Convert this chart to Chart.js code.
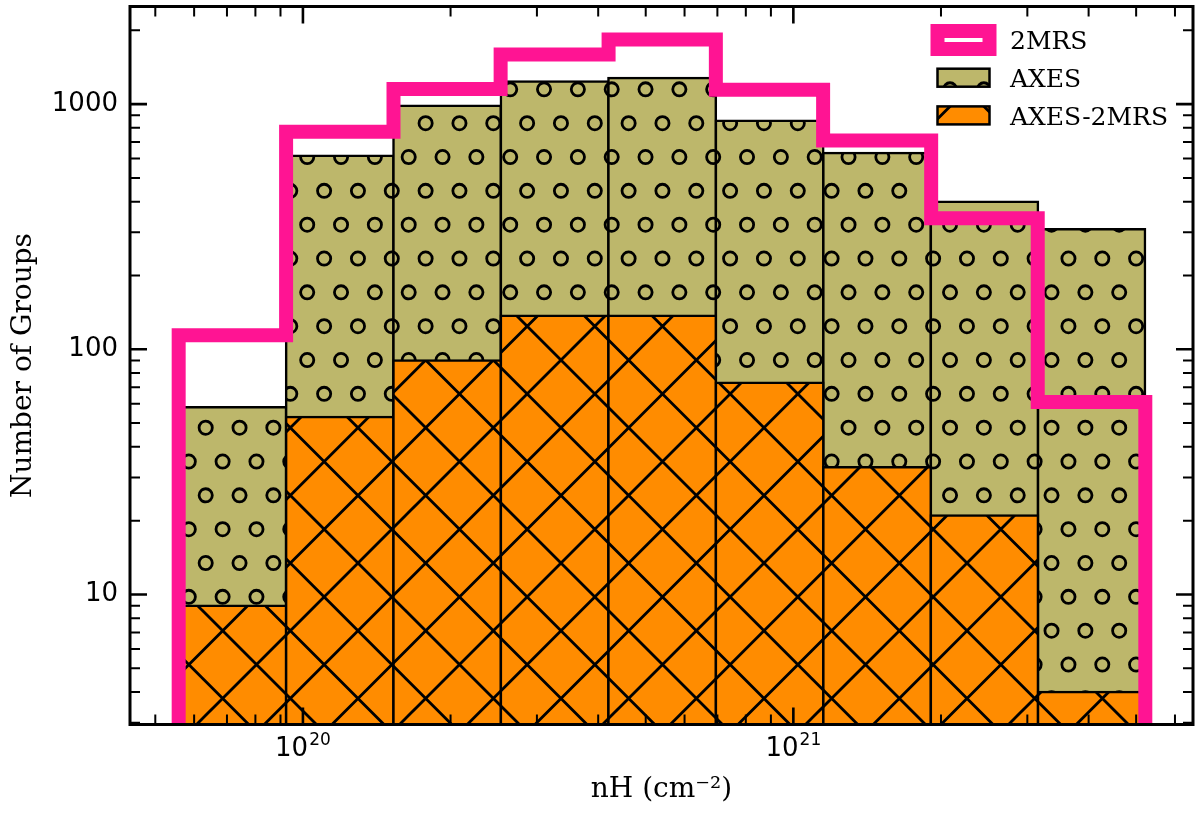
<!DOCTYPE html>
<html>
<head>
<meta charset="utf-8">
<script src="https://cdn.jsdelivr.net/npm/chart.js@4.4.1/dist/chart.umd.min.js"></script>
<style>
  html, body { margin: 0; padding: 0; background: #fff; }
</style>
</head>
<body>
<canvas id="chart" width="1200" height="813"></canvas>
<script>
// histogram bin edges in nH (cm^-2)
const binEdges = [5.58e19, 9.24e19, 1.53e20, 2.53e20, 4.20e20, 6.95e20, 1.15e21, 1.91e21, 3.15e21, 5.22e21];
const counts2MRS = [114, 771, 1152, 1594, 1835, 1144, 710, 342, 61];
const countsAXES = [58, 615, 984, 1237, 1276, 855, 631, 400, 309];
const countsAXES2MRS = [9, 53, 90, 137, 137, 73, 33, 21, 4];
const seriesLabels = ['2MRS', 'AXES', 'AXES-2MRS'];
const xRange = [4.44e19, 6.53e21];
const yRange = [2.95, 2500];

const PINK = '#ff1493';
const OLIVE = '#bdb76b';
const ORANGE = '#ff8c00';

// matplotlib-like hatches, anchored to the canvas
const TILE = 203, STEP = TILE / 6;

function circlePattern(bg) {
  const c = document.createElement('canvas');
  c.width = c.height = TILE;
  const g = c.getContext('2d');
  g.fillStyle = bg;
  g.fillRect(0, 0, TILE, TILE);
  g.strokeStyle = '#000';
  g.lineWidth = 2.8;
  for (let r = -1; r <= 6; r++) {
    const y = 21.7 + r * STEP;
    const shift = (r % 2 !== 0) ? -STEP / 2 : 0;
    for (let n = -1; n <= 7; n++) {
      g.beginPath();
      g.arc(2.7 + n * STEP + shift, y, 6.6, 0, 2 * Math.PI);
      g.stroke();
    }
  }
  return g.createPattern(c, 'repeat');
}

function crossPattern(bg) {
  const c = document.createElement('canvas');
  c.width = c.height = TILE;
  const g = c.getContext('2d');
  g.fillStyle = bg;
  g.fillRect(0, 0, TILE, TILE);
  g.strokeStyle = '#000';
  g.lineWidth = 2.8;
  const P = TILE / 3;
  g.beginPath();
  for (let k = -1; k <= 7; k++) {
    const s = 41.4 + k * P;
    g.moveTo(s + 10, -10);
    g.lineTo(s - TILE - 10, TILE + 10);
  }
  for (let k = -4; k <= 4; k++) {
    const d = -2.07 + k * P;
    g.moveTo(d - 10, -10);
    g.lineTo(d + TILE + 10, TILE + 10);
  }
  g.stroke();
  return g.createPattern(c, 'repeat');
}

const olivePat = circlePattern(OLIVE);
const orangePat = crossPattern(ORANGE);

const centers = countsAXES.map((_, i) => Math.sqrt(binEdges[i] * binEdges[i + 1]));

const stepPoints = [{ x: binEdges[0], y: 1 }];
counts2MRS.forEach((v, i) => {
  stepPoints.push({ x: binEdges[i], y: v }, { x: binEdges[i + 1], y: v });
});
stepPoints.push({ x: binEdges[binEdges.length - 1], y: 1 });

const isPow10 = v => Math.abs(Math.log10(v) - Math.round(Math.log10(v))) < 1e-6;

// inward ticks on all four sides + frame
const frameTicks = {
  id: 'frameTicks',
  afterDatasetsDraw(chart) {
    const { ctx, chartArea: a, scales } = chart;
    ctx.save();
    ctx.strokeStyle = '#000';
    const drawTicks = (scale, horizontal) => {
      const lo = Math.floor(Math.log10(scale.min));
      const hi = Math.ceil(Math.log10(scale.max));
      for (let e = lo; e <= hi; e++) {
        for (let k = 1; k <= 9; k++) {
          const v = k * Math.pow(10, e);
          if (v < scale.min || v > scale.max) continue;
          const p = scale.getPixelForValue(v);
          const len = k === 1 ? 17 : 10;
          ctx.lineWidth = k === 1 ? 2.6 : 2;
          ctx.beginPath();
          if (horizontal) {
            ctx.moveTo(p, a.bottom); ctx.lineTo(p, a.bottom - len);
            ctx.moveTo(p, a.top); ctx.lineTo(p, a.top + len);
          } else {
            ctx.moveTo(a.left, p); ctx.lineTo(a.left + len, p);
            ctx.moveTo(a.right, p); ctx.lineTo(a.right - len, p);
          }
          ctx.stroke();
        }
      }
    };
    drawTicks(scales.x, true);
    drawTicks(scales.y, false);
    ctx.lineWidth = 3;
    ctx.strokeRect(a.left, a.top, a.right - a.left, a.bottom - a.top);
    ctx.restore();
  }
};

// x tick labels as 10 with a raised exponent, like mathtext
const powerLabels = {
  id: 'powerLabels',
  afterDraw(chart) {
    const { ctx, chartArea: a, scales: { x } } = chart;
    ctx.save();
    ctx.fillStyle = '#000';
    ctx.textBaseline = 'alphabetic';
    ctx.textAlign = 'left';
    x.ticks.forEach(t => {
      const p = x.getPixelForValue(t.value);
      const exp = String(Math.round(Math.log10(t.value)));
      ctx.font = '26px "DejaVu Sans"';
      const w1 = ctx.measureText('10').width;
      ctx.font = '17px "DejaVu Sans"';
      const w2 = ctx.measureText(exp).width;
      const start = p - (w1 + w2 + 1) / 2;
      ctx.font = '26px "DejaVu Sans"';
      ctx.fillText('10', start, a.bottom + 31.5);
      ctx.font = '17px "DejaVu Sans"';
      ctx.fillText(exp, start + w1 + 1, a.bottom + 20.5);
    });
    ctx.restore();
  }
};

// legend in the upper right corner of the plot
const legendBox = {
  id: 'legendBox',
  afterDraw(chart) {
    const { ctx, chartArea: a } = chart;
    const left = a.right - 255.5, w = 52, h = 18;
    const textX = a.right - 183;
    ctx.save();
    seriesLabels.forEach((label, i) => {
      const cy = a.top + 33.5 + i * 37.7;
      if (i === 0) {
        ctx.lineWidth = 14;
        ctx.strokeStyle = PINK;
        ctx.lineJoin = 'miter';
        ctx.strokeRect(left, cy - h / 2, w, h);
      } else {
        ctx.fillStyle = i === 1 ? olivePat : orangePat;
        ctx.fillRect(left, cy - h / 2, w, h);
        ctx.lineWidth = 2.5;
        ctx.strokeStyle = '#000';
        ctx.strokeRect(left, cy - h / 2, w, h);
      }
      ctx.fillStyle = '#000';
      ctx.font = '25px "DejaVu Serif"';
      ctx.textAlign = 'left';
      ctx.textBaseline = 'alphabetic';
      ctx.fillText(label, textX, cy + 9.3);
    });
    ctx.restore();
  }
};

// both histograms share one "stack" slot so they overlap at the same x
const barCommon = {
  type: 'bar',
  stack: 'hist',
  borderColor: '#000',
  borderWidth: 2.5,
  borderSkipped: false,
  inflateAmount: 1.25,
  barThickness: 'flex',
  categoryPercentage: 1,
  barPercentage: 1
};

new Chart(document.getElementById('chart'), {
  type: 'bar',
  data: {
    datasets: [
      {
        type: 'line',
        label: seriesLabels[0],
        data: stepPoints,
        borderColor: PINK,
        borderWidth: 14,
        borderJoinStyle: 'miter',
        borderCapStyle: 'butt',
        pointRadius: 0,
        fill: false,
        tension: 0,
        clip: 0,
        order: 0
      },
      Object.assign({}, barCommon, {
        label: seriesLabels[1],
        data: centers.map((x, i) => ({ x, y: countsAXES[i] })),
        backgroundColor: olivePat,
        order: 2
      }),
      Object.assign({}, barCommon, {
        label: seriesLabels[2],
        data: centers.map((x, i) => ({ x, y: countsAXES2MRS[i] })),
        backgroundColor: orangePat,
        order: 1
      })
    ]
  },
  options: {
    responsive: false,
    animation: false,
    devicePixelRatio: 1,
    layout: { padding: { left: 0, right: 7, top: 6.5, bottom: 0 } },
    plugins: { legend: { display: false }, tooltip: { enabled: false } },
    scales: {
      x: {
        type: 'logarithmic',
        min: xRange[0],
        max: xRange[1],
        bounds: 'data',
        grid: { display: false, drawTicks: false },
        border: { display: false },
        ticks: { display: false },
        afterBuildTicks: s => { s.ticks = s.ticks.filter(t => isPow10(t.value)); },
        afterFit: s => { s.height = 88.5; s.paddingLeft = 0; s.paddingRight = 0; },
        title: {
          display: true,
          text: 'nH (cm⁻²)',
          color: '#000',
          font: { family: 'DejaVu Serif', size: 28 },
          padding: { top: 0, bottom: 6 }
        }
      },
      y: {
        type: 'logarithmic',
        stacked: false,
        min: yRange[0],
        max: yRange[1],
        bounds: 'data',
        grid: { display: false, drawTicks: false },
        border: { display: false },
        ticks: {
          autoSkip: false,
          padding: 12,
          color: '#000',
          font: { family: 'DejaVu Sans', size: 26 },
          callback: v => String(Math.round(v))
        },
        afterBuildTicks: s => { s.ticks = s.ticks.filter(t => isPow10(t.value)); },
        afterFit: s => { s.width = 130; s.paddingTop = 0; s.paddingBottom = 0; },
        title: {
          display: true,
          text: 'Number of Groups',
          color: '#000',
          font: { family: 'DejaVu Serif', size: 28 },
          padding: { top: 7, bottom: 0 }
        }
      }
    }
  },
  plugins: [frameTicks, powerLabels, legendBox]
});
</script>
</body>
</html>
